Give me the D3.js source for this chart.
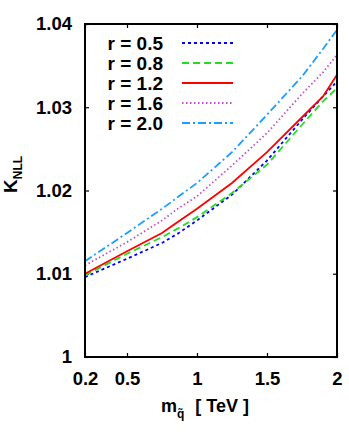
<!DOCTYPE html>
<html>
<head>
<meta charset="utf-8">
<script src="https://cdn.jsdelivr.net/npm/d3@7"></script>
<style>
  body { margin: 0; background: #fff; }
  svg text { font-family: "Liberation Sans", Arial, sans-serif; font-weight: bold; fill: #000; }
</style>
</head>
<body>
<div id="chart"></div>
<script>
// squark mass in TeV
var mass = [0.2, 0.5, 0.75, 0.87, 1.0, 1.25, 1.5, 1.75, 1.9, 2.0];

// K_NLL for each r
var k05 = [1.0096, 1.0118, 1.0137, 1.0149, 1.0164, 1.0195, 1.0236, 1.0285, 1.0313, 1.0331];
var k08 = [1.0098, 1.0124, 1.0144, 1.0155, 1.0168, 1.0197, 1.0231, 1.0279, 1.0307, 1.0323];
var k12 = [1.0100, 1.0127, 1.0149, 1.0163, 1.0178, 1.0209, 1.0246, 1.0288, 1.0313, 1.0339];
var k16 = [1.0110, 1.0138, 1.0164, 1.0179, 1.0193, 1.0230, 1.0269, 1.0316, 1.0342, 1.0363];
var k20 = [1.0115, 1.0149, 1.0178, 1.0193, 1.0209, 1.0246, 1.0291, 1.0337, 1.0370, 1.0393];

var labels = ["r = 0.5", "r = 0.8", "r = 1.2", "r = 1.6", "r = 2.0"];
var xTicks = [0.2, 0.5, 1, 1.5, 2];
var yTicks = [1, 1.01, 1.02, 1.03, 1.04];

var series = [
  { name: labels[0], vals: k05, color: "#0000ff", dash: "3,3" },
  { name: labels[1], vals: k08, color: "#22dd22", dash: "7,4" },
  { name: labels[2], vals: k12, color: "#ff0000", dash: null },
  { name: labels[3], vals: k16, color: "#c050c8", dash: "1.5,2.5" },
  { name: labels[4], vals: k20, color: "#1a9fff", dash: "8,3,2,3" }
];

var W = 349, H = 439;
var pLeft = 85, pRight = 337, pTop = 24, pBottom = 357;

var svg = d3.select("#chart").append("svg")
    .attr("width", W).attr("height", H);

var x = d3.scaleLinear().domain([0.2, 2]).range([pLeft, pRight]);
var y = d3.scaleLinear().domain([1, 1.04]).range([pBottom, pTop]);

// axes with inward ticks
svg.append("g")
    .attr("transform", "translate(0," + pBottom + ")")
    .call(d3.axisBottom(x).tickValues(xTicks).tickSize(-4).tickPadding(15).tickFormat(d3.format("")))
    .call(g => g.select(".domain").remove())
    .selectAll("text").style("font-size", "18.5px");

svg.append("g")
    .attr("transform", "translate(0," + pTop + ")")
    .call(d3.axisTop(x).tickValues(xTicks).tickSize(-4).tickFormat(""))
    .call(g => g.select(".domain").remove());

svg.append("g")
    .attr("transform", "translate(" + pLeft + ",0)")
    .call(d3.axisLeft(y).tickValues(yTicks).tickSize(-4).tickPadding(13)
      .tickFormat(d => d === 1 ? "1" : d.toFixed(2)))
    .call(g => g.select(".domain").remove())
    .selectAll("text").style("font-size", "18.5px");

svg.append("g")
    .attr("transform", "translate(" + pRight + ",0)")
    .call(d3.axisRight(y).tickValues(yTicks).tickSize(-4).tickFormat(""))
    .call(g => g.select(".domain").remove());

svg.selectAll(".tick line").attr("stroke", "#000").attr("stroke-width", 1.2);

// curves
var line = d3.line()
    .x((d, i) => x(mass[i]))
    .y(d => y(d));

svg.selectAll(".curve")
    .data(series)
    .enter().append("path")
    .attr("class", "curve")
    .attr("d", d => line(d.vals))
    .attr("fill", "none")
    .attr("stroke", d => d.color)
    .attr("stroke-width", 1.8)
    .attr("stroke-dasharray", d => d.dash);

// frame
svg.append("rect")
    .attr("x", pLeft).attr("y", pTop)
    .attr("width", pRight - pLeft).attr("height", pBottom - pTop)
    .attr("fill", "none").attr("stroke", "#000").attr("stroke-width", 2);

// legend
var leg = svg.selectAll(".leg")
    .data(series)
    .enter().append("g")
    .attr("class", "leg")
    .attr("transform", (d, i) => "translate(0," + (43 + i * 20) + ")");

leg.append("text")
    .attr("x", 163).attr("dy", "0.35em")
    .attr("text-anchor", "end")
    .style("font-size", "19px")
    .text(d => d.name);

leg.append("line")
    .attr("x1", 182).attr("x2", 233)
    .attr("stroke", d => d.color)
    .attr("stroke-width", 1.8)
    .attr("stroke-dasharray", d => d.dash);

// axis titles
var xt = svg.append("text")
    .attr("x", 161).attr("y", 412)
    .style("font-size", "18px");
xt.append("tspan").text("m");
xt.append("tspan").attr("dy", 6).style("font-size", "12px").text("q\u0303");
xt.append("tspan").attr("dy", -6).attr("dx", 6).text("  [ TeV ]");

var yt = svg.append("text")
    .attr("transform", "translate(17,193) rotate(-90)")
    .style("font-size", "19px");
yt.append("tspan").text("K");
yt.append("tspan").attr("dy", 5).style("font-size", "12px").text("NLL");
</script>
</body>
</html>
